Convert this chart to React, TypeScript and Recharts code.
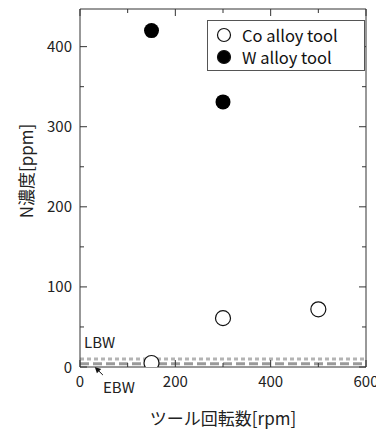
import { ScatterChart, Scatter, XAxis, YAxis, ReferenceLine, Label } from 'recharts';

const rpmCo = [150, 300, 500];
const nCo = [5, 61, 72];
const rpmW = [150, 300];
const nW = [420, 331];

const lbwLevel = 10;
const ebwLevel = 4;

const xTicks = [0, 100, 200, 300, 400, 500, 600];
const xLabeled = [0, 200, 400, 600];
const yTicks = [0, 50, 100, 150, 200, 250, 300, 350, 400];
const yLabeled = [0, 100, 200, 300, 400];

const coData = rpmCo.map((x, i) => ({ x, y: nCo[i] }));
const wData = rpmW.map((x, i) => ({ x, y: nW[i] }));

const FONT = '"Noto Sans CJK JP", "Noto Sans", sans-serif';
const INK = '#222';
const AXIS = '#333';

const BottomTick = (props: any) => {
  const { x, y, payload } = props;
  const major = xLabeled.includes(payload.value);
  return (
    <g>
      <line x1={x} x2={x} y1={y} y2={y - (major ? 7 : 4)} stroke={AXIS} />
      {major && (
        <text x={x} y={y + 20} textAnchor="middle" fontSize={15} fill={INK} fontFamily={FONT}>
          {payload.value}
        </text>
      )}
    </g>
  );
};

const LeftTick = (props: any) => {
  const { x, y, payload } = props;
  const major = yLabeled.includes(payload.value);
  return (
    <g>
      <line x1={x} x2={x + (major ? 7 : 4)} y1={y} y2={y} stroke={AXIS} />
      {major && (
        <text x={x - 8} y={y + 5.5} textAnchor="end" fontSize={15} fill={INK} fontFamily={FONT}>
          {payload.value}
        </text>
      )}
    </g>
  );
};

const TopTick = (props: any) => {
  const { x, y, payload } = props;
  const major = xLabeled.includes(payload.value);
  return <line x1={x} x2={x} y1={y} y2={y + (major ? 7 : 4)} stroke={AXIS} />;
};

const RightTick = (props: any) => {
  const { x, y, payload } = props;
  const major = yLabeled.includes(payload.value);
  return <line x1={x} x2={x - (major ? 7 : 4)} y1={y} y2={y} stroke={AXIS} />;
};

const OpenDot = (p: any) => <circle cx={p.cx} cy={p.cy} r={7.5} fill="#fff" stroke="#111" strokeWidth={1.2} />;
const FilledDot = (p: any) => <circle cx={p.cx} cy={p.cy} r={7.5} fill="#000" />;

const Arrow = (p: any) => {
  const { x1, y1, x2, y2 } = p;
  const ang = Math.atan2(y2 - y1, x2 - x1);
  const len = 6;
  const w = 3;
  const bx = x2 - len * Math.cos(ang);
  const by = y2 - len * Math.sin(ang);
  const pts = [
    `${x2},${y2}`,
    `${bx + w * Math.sin(ang)},${by - w * Math.cos(ang)}`,
    `${bx - w * Math.sin(ang)},${by + w * Math.cos(ang)}`,
  ].join(' ');
  return (
    <g>
      <line x1={x1} y1={y1} x2={bx} y2={by} stroke="#111" strokeWidth={1} />
      <polygon points={pts} fill="#111" />
    </g>
  );
};

const LegendBox = () => (
  <div
    style={{
      position: 'absolute',
      left: 207,
      top: 20,
      width: 158,
      height: 51,
      border: '1px solid #555',
      background: '#fff',
      fontFamily: FONT,
      fontSize: 16.5,
      color: '#111',
      paddingTop: 3,
      boxSizing: 'border-box',
    }}
  >
    {[
      { name: 'Co alloy tool', fill: '#fff' },
      { name: 'W alloy tool', fill: '#000' },
    ].map((e) => (
      <div key={e.name} style={{ display: 'flex', alignItems: 'center', height: 22 }}>
        <svg width={32} height={22}>
          <circle cx={16} cy={11} r={6.5} fill={e.fill} stroke="#111" strokeWidth={1.2} />
        </svg>
        <span style={{ marginLeft: 2 }}>{e.name}</span>
      </div>
    ))}
  </div>
);

export default function App() {
  return (
    <div style={{ position: 'relative', width: 384, height: 432, marginLeft: -8, marginTop: -8 }}>
      <ScatterChart width={384} height={432} margin={{ top: 8, right: 17, bottom: 64, left: 79 }}>
        <XAxis
          xAxisId="b"
          type="number"
          dataKey="x"
          domain={[0, 600]}
          allowDataOverflow
          ticks={xTicks}
          interval={0}
          height={1}
          tickSize={0}
          tickMargin={0}
          tickLine={false}
          axisLine={{ stroke: AXIS }}
          tick={BottomTick}
        >
          <Label
            content={(p: any) => (
              <text
                x={223}
                y={425}
                textAnchor="middle"
                fontSize={17}
                fill={INK}
                fontFamily={FONT}
              >
                ツール回転数[rpm]
              </text>
            )}
          />
        </XAxis>
        <XAxis
          xAxisId="t"
          orientation="top"
          type="number"
          dataKey="x"
          domain={[0, 600]}
          allowDataOverflow
          ticks={xTicks}
          interval={0}
          height={1}
          tickSize={0}
          tickMargin={0}
          tickLine={false}
          axisLine={{ stroke: AXIS }}
          tick={TopTick}
        />
        <YAxis
          yAxisId="l"
          type="number"
          dataKey="y"
          domain={[0, 447]}
          allowDataOverflow
          ticks={yTicks}
          interval={0}
          width={1}
          tickSize={0}
          tickMargin={0}
          tickLine={false}
          axisLine={{ stroke: AXIS }}
          tick={LeftTick}
        >
          <Label
            content={(p: any) => {
              const cx = 32.5;
              const cy = 171;
              return (
                <text
                  x={cx}
                  y={cy}
                  transform={`rotate(-90 ${cx} ${cy})`}
                  textAnchor="middle"
                  fontSize={17}
                  fill={INK}
                  fontFamily={FONT}
                >
                  N濃度[ppm]
                </text>
              );
            }}
          />
        </YAxis>
        <YAxis
          yAxisId="r"
          orientation="right"
          type="number"
          dataKey="y"
          domain={[0, 447]}
          allowDataOverflow
          ticks={yTicks}
          interval={0}
          width={1}
          tickSize={0}
          tickMargin={0}
          tickLine={false}
          axisLine={{ stroke: AXIS }}
          tick={RightTick}
        />
        <ReferenceLine
          xAxisId="b"
          yAxisId="l"
          y={ebwLevel}
          stroke="#9a9a9a"
          strokeWidth={3}
          strokeDasharray="9 4"
        />
        <ReferenceLine
          xAxisId="b"
          yAxisId="l"
          y={lbwLevel}
          stroke="#b4b4b4"
          strokeWidth={3}
          strokeDasharray="4 3"
        >
          <Label
            content={(p: any) => (
              <text x={p.viewBox.x + 4} y={p.viewBox.y - 11} fontSize={15} fill={INK} fontFamily={FONT}>
                LBW
              </text>
            )}
          />
        </ReferenceLine>
        <ReferenceLine
          xAxisId="b"
          yAxisId="l"
          segment={[
            { x: 48, y: -10 },
            { x: 31, y: 0 },
          ]}
          ifOverflow="visible"
          shape={Arrow}
        >
          <Label
            content={() => (
              <text x={103} y={393} fontSize={15} fill={INK} fontFamily={FONT}>
                EBW
              </text>
            )}
          />
        </ReferenceLine>
        <Scatter
          name="Co alloy tool"
          xAxisId="b"
          yAxisId="l"
          data={coData}
          shape={OpenDot}
          isAnimationActive={false}
        />
        <Scatter
          name="W alloy tool"
          xAxisId="b"
          yAxisId="l"
          data={wData}
          shape={FilledDot}
          isAnimationActive={false}
        />
      </ScatterChart>
      <LegendBox />
    </div>
  );
}
